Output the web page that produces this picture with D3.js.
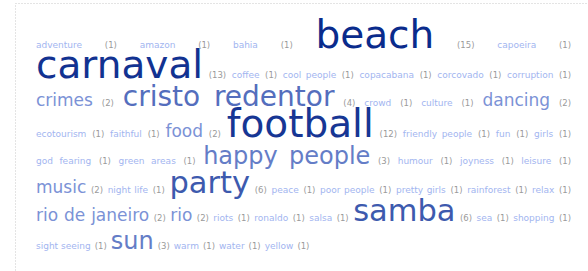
<!DOCTYPE html>
<html>
<head>
<meta charset="utf-8">
<script src="https://cdn.jsdelivr.net/npm/d3@7"></script>
<style>
  body { margin: 0; background: #fff; }
  svg { display: block; }
</style>
</head>
<body>
<div id="cloud"></div>
<script>
var tags = ["adventure", "amazon", "bahia", "beach", "capoeira",
    "carnaval", "coffee", "cool people", "copacabana", "corcovado", "corruption",
    "crimes", "cristo redentor", "crowd", "culture", "dancing",
    "ecotourism", "faithful", "food", "football", "friendly people", "fun", "girls",
    "god fearing", "green areas", "happy people", "humour", "joyness", "leisure",
    "music", "night life", "party", "peace", "poor people", "pretty girls", "rainforest", "relax",
    "rio de janeiro", "rio", "riots", "ronaldo", "salsa", "samba", "sea", "shopping",
    "sight seeing", "sun", "warm", "water", "yellow"];
var counts = [1, 1, 1, 15, 1,
    13, 1, 1, 1, 1, 1,
    2, 4, 1, 1, 2,
    1, 1, 2, 12, 1, 1, 1,
    1, 1, 3, 1, 1, 1,
    2, 1, 6, 1, 1, 1, 1, 1,
    2, 2, 1, 1, 1, 6, 1, 1,
    1, 3, 1, 1, 1];

var width = 588, height = 271;
var left = 36, right = 571;
var gap = 4;          // natural space between items
var countSize = 8.5;
var countColor = "#9a9a9a";

var svg = d3.select("#cloud")
    .append("svg")
    .attr("width", width)
    .attr("height", height);

// dotted frame
svg.append("rect")
    .attr("x", 15.5).attr("y", 3.5)
    .attr("width", 600).attr("height", 300)
    .attr("fill", "none")
    .attr("stroke", "#c8c8c8")
    .attr("stroke-dasharray", "1,2");

// size classes by count
var sizeScale = d3.scaleLinear()
    .domain([1, 2, 3, 4, 6, 12])
    .range([9, 17, 24, 28, 30.5, 39])
    .clamp(true);
var colorScale = d3.scaleLog().domain([1, 15])
    .range(["#a2b5f0", "#0a2b8c"])
    .interpolate(d3.interpolateRgb);

var g = svg.append("g")
    .style("font-family", "'DejaVu Sans', Verdana, sans-serif");

// build tokens: each word of a tag plus its count
var units = tags.map(function (t, i) {
    var size = sizeScale(counts[i]);
    var tokens = t.split(" ").map(function (w) {
        return { text: w, size: size, color: colorScale(counts[i]) };
    });
    tokens.push({ text: "(" + counts[i] + ")", size: countSize, color: countColor, isCount: true });
    return { size: size, tokens: tokens };
});

// measure
units.forEach(function (u) {
    u.tokens.forEach(function (tk) {
        tk.node = g.append("text")
            .attr("font-size", tk.size)
            .attr("fill", tk.color)
            .text(tk.text);
        tk.w = tk.node.node().getComputedTextLength();
    });
    // space before each token after the first
    u.width = 0;
    u.tokens.forEach(function (tk, j) {
        tk.space = j == 0 ? 0 : (tk.isCount ? gap : tk.size * 0.318);
        u.width += tk.space + tk.w;
    });
});

// greedy line breaking
var lines = [], cur = [], curW = 0;
units.forEach(function (u) {
    var add = (cur.length ? gap : 0) + u.width;
    if (cur.length && curW + add > right - left) {
        lines.push(cur);
        cur = [];
        curW = 0;
        add = u.width;
    }
    cur.push(u);
    curW += add;
});
if (cur.length) lines.push(cur);

// place lines, justified except the last
var baseline = 0;
lines.forEach(function (line, li) {
    var maxSize = d3.max(line, d => d.size);
    baseline = li == 0 ? 14.5 + 0.86 * maxSize : baseline + 22.5 + 0.2 * maxSize;

    var natural = 0, nSpaces = 0;
    line.forEach(function (u, k) {
        natural += u.width + (k ? gap : 0);
        nSpaces += u.tokens.length - 1 + (k ? 1 : 0);
    });
    var extra = li < lines.length - 1 ? (right - left - natural) / nSpaces : 0;

    var x = left;
    line.forEach(function (u, k) {
        if (k) x += gap + extra;
        u.tokens.forEach(function (tk, j) {
            if (j) x += tk.space + extra;
            tk.node.attr("x", x).attr("y", baseline);
            x += tk.w;
        });
    });
});
</script>
</body>
</html>
